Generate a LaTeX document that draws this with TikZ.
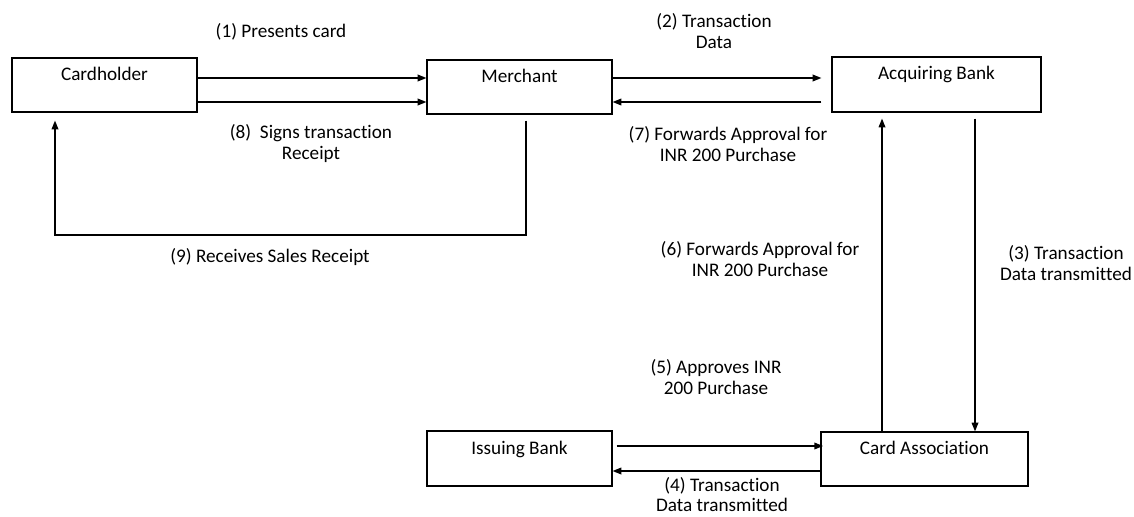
\documentclass[tikz,border=0pt]{standalone}
\usepackage{fontspec}
\setmainfont{Carlito}[Ligatures=NoCommon]
\usetikzlibrary{arrows.meta,calc}
\begin{document}
\begin{tikzpicture}[x=0.75pt,y=-0.75pt,
  every node/.style={font=\fontsize{14.4}{15.75}\selectfont},
  box/.style={draw,line width=0.9pt,rectangle,inner sep=0pt},
  lbl/.style={align=center,inner sep=0pt},
  arr/.style={line width=0.9pt,-{Triangle[length=6.5pt,width=5pt]}},
  ln/.style={line width=0.9pt}]
\useasboundingbox (0,0) rectangle (1134,517);
% boxes
\node[box,minimum width=138.75pt,minimum height=40.5pt,
  label={[anchor=center,yshift=-12.75pt]north:Cardholder}] (ch) at (104.5,85) {};
\node[box,minimum width=138.75pt,minimum height=40.5pt,
  label={[anchor=center,yshift=-12.75pt]north:Merchant}] (me) at (519.5,87) {};
\node[box,minimum width=156.75pt,minimum height=41.25pt,
  label={[anchor=center,yshift=-13.5pt]north:Acquiring Bank}] (ab) at (936.5,84.5) {};
\node[box,minimum width=138.75pt,minimum height=41.25pt,
  label={[anchor=center,yshift=-14.25pt]north:Issuing Bank}] (ib) at (519.5,458.5) {};
\node[box,minimum width=155.25pt,minimum height=40.5pt,
  label={[anchor=center,yshift=-12pt]north:Card Association}] (ca) at (924.5,459) {};
% helper coordinates
\coordinate (r1) at (0,78);
\coordinate (r2) at (0,102);
\coordinate (r3) at (0,446);
\coordinate (r4) at (0,471);
\coordinate (c1) at (882,0);
\coordinate (c2) at (975,0);
\coordinate (m1) at (526,235);
\coordinate (m2) at (55,235);
% connectors
\draw[arr] (ch.east |- r1) -- (me.west |- r1);
\draw[arr] (ch.east |- r2) -- (me.west |- r2);
\draw[arr,shorten >=7.5pt] (me.east |- r1) -- (ab.west |- r1);
\draw[arr,shorten <=7.5pt] (ab.west |- r2) -- (me.east |- r2);
\draw[arr,shorten >=6pt,shorten <=4.5pt] (me.south -| m1) -- (m1) -- (m2) -- (ch.south -| m2);
\draw[arr,shorten >=4.5pt] (ca.north -| c1) -- (ab.south -| c1);
\draw[arr,shorten <=4.5pt] (ab.south -| c2) -- (ca.north -| c2);
\draw[arr,shorten <=3pt,shorten >=-2pt] (ib.east |- r3) -- (ca.west |- r3);
\draw[arr] (ca.west |- r4) -- (ib.east |- r4);
% labels
\node[lbl] (l1) at (281,32) {(1) Presents card};
\node[lbl] (l2) at (714,31.5) {(2) Transaction\\Data};
\node[lbl] (l3) at (1066,263) {(3) Transaction\\Data transmitted};
\node[lbl,font=\fontsize{14.4}{14.6}\selectfont] (l4) at (722,494.5) {(4) Transaction\\Data transmitted};
\node[lbl] (l5) at (716,377.5) {(5) Approves INR\\200 Purchase};
\node[lbl] (l6) at (760,259) {(6) Forwards Approval for\\INR 200 Purchase};
\node[lbl] (l7) at (728,144.5) {(7) Forwards Approval for\\INR 200 Purchase};
\node[lbl] (l8) at (311,144) {(8)\ \ Signs transaction\\Receipt};
\node[lbl] (l9) at (270,257) {(9) Receives Sales Receipt};
\end{tikzpicture}
\end{document}
